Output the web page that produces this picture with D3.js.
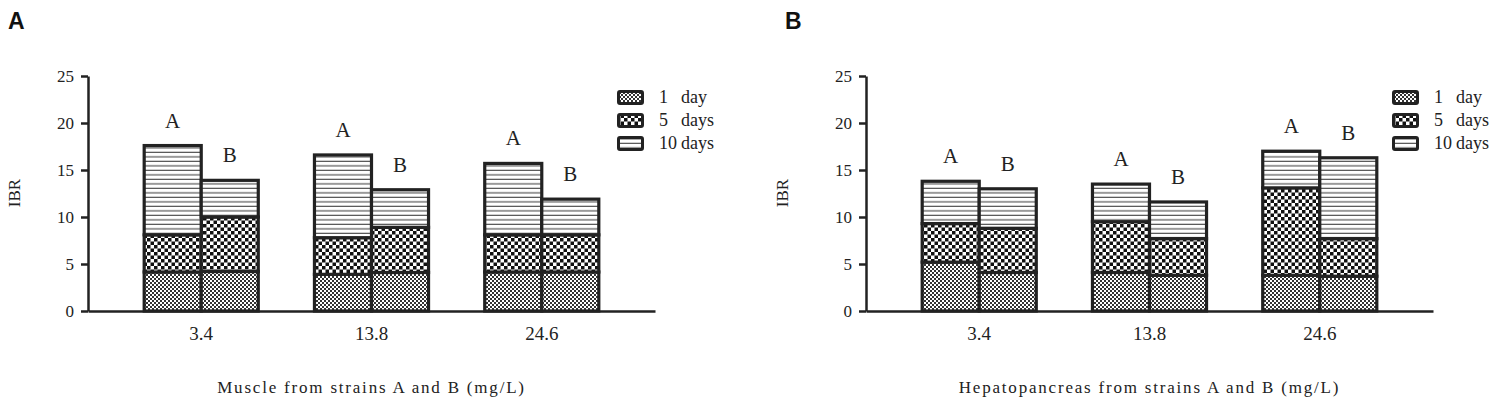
<!DOCTYPE html>
<html>
<head>
<meta charset="utf-8">
<script src="https://cdn.jsdelivr.net/npm/d3@7/dist/d3.min.js"></script>
<style>
  body { margin: 0; background: #fff; }
  text { font-family: "Liberation Serif", "DejaVu Serif", serif; fill: #222; }
</style>
</head>
<body>
<div id="chart"></div>
<script>
// concentrations and strains
var categories = ['3.4', '13.8', '24.6'];
var strains = ['A', 'B'];
var days = ['1 day', '5 days', '10 days'];
var dayNum = ['1', '5', '10'];
var dayWord = ['day', 'days', 'days'];
var yTicks = [0, 5, 10, 15, 20, 25];

// muscle, IBR per stage (stacked)
var muscleA_1 = [4.15, 3.9, 4.15];
var muscleA_5 = [3.95, 3.9, 3.95];
var muscleA_10 = [9.5, 8.8, 7.6];
var muscleB_1 = [4.2, 4.1, 4.15];
var muscleB_5 = [5.8, 4.8, 3.95];
var muscleB_10 = [3.9, 4.0, 3.8];

// hepatopancreas
var hepA_1 = [5.2, 4.1, 3.8];
var hepA_5 = [4.1, 5.4, 9.3];
var hepA_10 = [4.5, 4.0, 3.9];
var hepB_1 = [4.1, 3.8, 3.7];
var hepB_5 = [4.7, 3.9, 4.0];
var hepB_10 = [4.2, 3.9, 8.6];

var W = 1499, H = 403;
var ink = '#222';
var serif = '"Liberation Serif", "Times New Roman", serif';

var svg = d3.select('#chart').append('svg')
    .attr('width', W)
    .attr('height', H);

var defs = svg.append('defs');

// 1 day: fine checker
var p1 = defs.append('pattern').attr('id', 'pat0')
    .attr('patternUnits', 'userSpaceOnUse').attr('width', 4).attr('height', 4);
p1.append('rect').attr('width', 4).attr('height', 4).attr('fill', '#fff');
p1.append('rect').attr('width', 2).attr('height', 2).attr('fill', '#333');
p1.append('rect').attr('x', 2).attr('y', 2).attr('width', 2).attr('height', 2).attr('fill', '#333');

// 5 days: big checker
var p5 = defs.append('pattern').attr('id', 'pat1')
    .attr('patternUnits', 'userSpaceOnUse').attr('width', 7).attr('height', 7);
p5.append('rect').attr('width', 7).attr('height', 7).attr('fill', '#fff');
p5.append('rect').attr('width', 3.5).attr('height', 3.5).attr('fill', '#111');
p5.append('rect').attr('x', 3.5).attr('y', 3.5).attr('width', 3.5).attr('height', 3.5).attr('fill', '#111');

// 10 days: horizontal lines
var p10 = defs.append('pattern').attr('id', 'pat2')
    .attr('patternUnits', 'userSpaceOnUse').attr('width', 6).attr('height', 4.5);
p10.append('rect').attr('width', 6).attr('height', 4.5).attr('fill', '#fff');
p10.append('rect').attr('y', 3.3).attr('width', 6).attr('height', 1.2).attr('fill', '#555');

function drawPanel(o) {
    var g = svg.append('g');

    var y = d3.scaleLinear().domain([0, 25]).range([311, 76]);
    var x0 = d3.scaleBand().domain(categories).range([o.left, o.left + 567]).padding(0.33);
    var x1 = d3.scaleBand().domain(strains).range([0, x0.bandwidth()]);

    // build stacked rows
    var rows = [];
    categories.forEach(function (c, i) {
        strains.forEach(function (s) {
            var v = o.data[s];
            rows.push({ cat: c, strain: s, d0: v[0][i], d1: v[1][i], d2: v[2][i] });
        });
    });
    var stack = d3.stack().keys(['d0', 'd1', 'd2'])(rows);

    stack.forEach(function (layer, li) {
        g.selectAll('.seg' + li).data(layer).enter().append('rect')
            .attr('x', function (d) { return x0(d.data.cat) + x1(d.data.strain); })
            .attr('y', function (d) { return y(d[1]); })
            .attr('width', x1.bandwidth())
            .attr('height', function (d) { return y(d[0]) - y(d[1]); })
            .attr('fill', 'url(#pat' + li + ')')
            .attr('stroke', ink)
            .attr('stroke-width', 3.2);
    });

    // strain letters above bars
    var top = stack[2];
    g.selectAll('.lab').data(top).enter().append('text')
        .attr('x', function (d) { return x0(d.data.cat) + x1(d.data.strain) + x1.bandwidth() / 2; })
        .attr('y', function (d) { return y(d[1]) - 18; })
        .attr('text-anchor', 'middle')
        .style('font-size', '21px')
        .text(function (d) { return d.data.strain; });

    // axes
    var yAxis = d3.axisLeft(y).tickValues(yTicks).tickSize(7).tickSizeOuter(0).tickPadding(7);
    var ya = g.append('g').attr('transform', 'translate(' + o.left + ',0)').call(yAxis)
        .attr('font-family', serif).attr('font-size', 17);
    ya.select('.domain').attr('stroke', ink).attr('stroke-width', 2.5);
    ya.selectAll('.tick line').attr('stroke', ink).attr('stroke-width', 2.5);
    ya.selectAll('.tick text').attr('fill', ink);

    var xAxis = d3.axisBottom(x0).tickSize(0).tickSizeOuter(0).tickPadding(16);
    var xa = g.append('g').attr('transform', 'translate(0,311)').call(xAxis)
        .attr('font-family', serif).attr('font-size', 19);
    xa.select('.domain').attr('stroke', ink).attr('stroke-width', 2.5);
    xa.selectAll('.tick text').attr('fill', ink);

    // titles
    g.append('text')
        .attr('transform', 'translate(' + (o.left - o.ylabOff) + ',193) rotate(-90)')
        .attr('text-anchor', 'middle')
        .style('font-size', '17px')
        .text('IBR');

    g.append('text')
        .attr('x', o.left + 567 / 2)
        .attr('y', 393)
        .attr('text-anchor', 'middle')
        .style('font-size', '17px')
        .style('letter-spacing', '1.8px')
        .text(o.title);

    g.append('text')
        .attr('x', o.letterX)
        .attr('y', 29)
        .style('font-family', '"Liberation Sans", Arial, sans-serif')
        .style('font-weight', 'bold')
        .style('font-size', '23px')
        .style('fill', '#111')
        .text(o.letter);

    // legend
    var lg = g.append('g').attr('transform', 'translate(' + o.legX + ',90)');
    days.forEach(function (d, i) {
        lg.append('rect')
            .attr('x', 1.5).attr('y', i * 23 + 1.5)
            .attr('width', 24).attr('height', 12)
            .attr('rx', 1.5)
            .attr('fill', 'url(#pat' + i + ')')
            .attr('stroke', ink)
            .attr('stroke-width', 3);
        lg.append('text')
            .attr('x', 42).attr('y', i * 23 + 13)
            .style('font-size', '18px')
            .text(dayNum[i]);
        lg.append('text')
            .attr('x', 64).attr('y', i * 23 + 13)
            .style('font-size', '18px')
            .text(dayWord[i]);
    });
}

drawPanel({
    left: 88, ylabOff: 68, letter: 'A', letterX: 8, legX: 617,
    title: 'Muscle from strains A and B (mg/L)',
    data: { A: [muscleA_1, muscleA_5, muscleA_10], B: [muscleB_1, muscleB_5, muscleB_10] }
});

drawPanel({
    left: 866, ylabOff: 78, letter: 'B', letterX: 785, legX: 1392,
    title: 'Hepatopancreas from strains A and B (mg/L)',
    data: { A: [hepA_1, hepA_5, hepA_10], B: [hepB_1, hepB_5, hepB_10] }
});
</script>
</body>
</html>
